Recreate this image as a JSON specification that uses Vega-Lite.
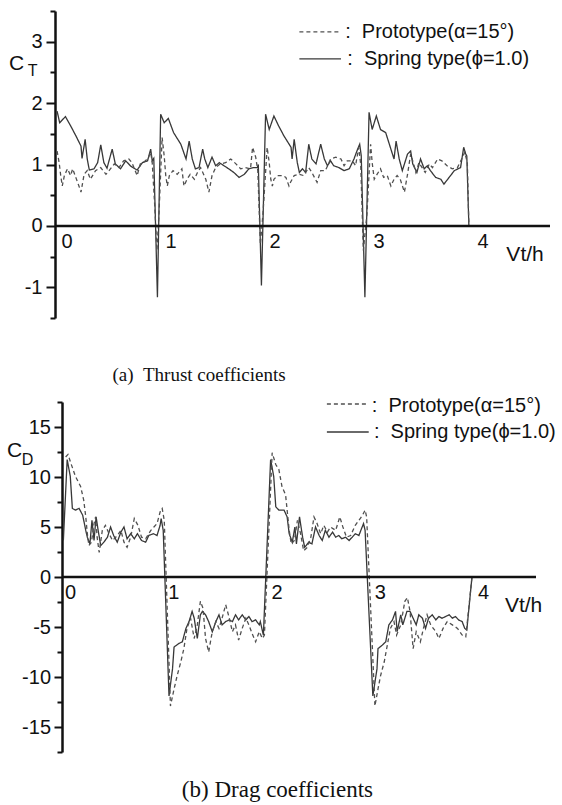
{
  "$schema": "https://vega.github.io/schema/vega-lite/v6.json",
  "padding": {"left": 6, "top": 10, "right": 5, "bottom": 5},
  "bounds": "flush",
  "spacing": 84,
  "config": {
    "view": {"stroke": null},
    "font": "Liberation Sans",
    "axis": {"grid": false, "domainColor": "#111111", "domainWidth": 2.5, "tickColor": "#111111", "tickWidth": 2, "labelColor": "#111111", "labelFont": "Liberation Sans", "labelFontSize": 20, "title": null}
  },
  "datasets": {
    "ct": [
      {"x":0.02,"y":1.87,"s":"S"},{"x":0.045,"y":1.68,"s":"S"},{"x":0.10,"y":1.78,"s":"S"},{"x":0.15,"y":1.63,"s":"S"},{"x":0.20,"y":1.47,"s":"S"},{"x":0.25,"y":1.30,"s":"S"},{"x":0.26,"y":1.10,"s":"S"},{"x":0.29,"y":1.41,"s":"S"},{"x":0.31,"y":1.09,"s":"S"},{"x":0.33,"y":0.91,"s":"S"},{"x":0.375,"y":0.93,"s":"S"},{"x":0.41,"y":1.03,"s":"S"},{"x":0.44,"y":1.32,"s":"S"},{"x":0.47,"y":1.03,"s":"S"},{"x":0.50,"y":0.94,"s":"S"},{"x":0.55,"y":1.25,"s":"S"},{"x":0.58,"y":1.01,"s":"S"},{"x":0.63,"y":0.93,"s":"S"},{"x":0.68,"y":1.06,"s":"S"},{"x":0.73,"y":0.97,"s":"S"},{"x":0.79,"y":0.91,"s":"S"},{"x":0.84,"y":1.03,"s":"S"},{"x":0.89,"y":1.06,"s":"S"},{"x":0.92,"y":1.25,"s":"S"},{"x":0.935,"y":1.06,"s":"S"},{"x":0.95,"y":1.1,"s":"S"},{"x":0.985,"y":-1.16,"s":"S"},{"x":1.016,"y":1.82,"s":"S"},
      {"x":1.05,"y":1.68,"s":"S"},{"x":1.09,"y":1.75,"s":"S"},{"x":1.14,"y":1.52,"s":"S"},{"x":1.21,"y":1.33,"s":"S"},{"x":1.26,"y":1.09,"s":"S"},{"x":1.29,"y":1.38,"s":"S"},{"x":1.32,"y":1.09,"s":"S"},{"x":1.35,"y":0.93,"s":"S"},{"x":1.385,"y":0.95,"s":"S"},{"x":1.42,"y":1.25,"s":"S"},{"x":1.44,"y":1.09,"s":"S"},{"x":1.47,"y":0.95,"s":"S"},{"x":1.51,"y":1.12,"s":"S"},{"x":1.545,"y":0.98,"s":"S"},{"x":1.58,"y":1.03,"s":"S"},{"x":1.625,"y":0.98,"s":"S"},{"x":1.67,"y":0.93,"s":"S"},{"x":1.72,"y":0.87,"s":"S"},{"x":1.77,"y":0.79,"s":"S"},{"x":1.82,"y":0.84,"s":"S"},{"x":1.865,"y":0.93,"s":"S"},{"x":1.91,"y":0.95,"s":"S"},{"x":1.945,"y":0.95,"s":"S"},{"x":1.955,"y":1.0,"s":"S"},{"x":1.985,"y":-0.97,"s":"S"},{"x":2.025,"y":1.82,"s":"S"},
      {"x":2.06,"y":1.57,"s":"S"},{"x":2.105,"y":1.79,"s":"S"},{"x":2.15,"y":1.63,"s":"S"},{"x":2.20,"y":1.47,"s":"S"},{"x":2.27,"y":1.28,"s":"S"},{"x":2.28,"y":1.09,"s":"S"},{"x":2.30,"y":1.41,"s":"S"},{"x":2.33,"y":1.03,"s":"S"},{"x":2.35,"y":0.87,"s":"S"},{"x":2.38,"y":0.93,"s":"S"},{"x":2.41,"y":0.87,"s":"S"},{"x":2.44,"y":1.33,"s":"S"},{"x":2.47,"y":1.09,"s":"S"},{"x":2.51,"y":1.01,"s":"S"},{"x":2.555,"y":1.33,"s":"S"},{"x":2.59,"y":1.09,"s":"S"},{"x":2.62,"y":0.98,"s":"S"},{"x":2.65,"y":1.06,"s":"S"},{"x":2.68,"y":0.98,"s":"S"},{"x":2.73,"y":0.95,"s":"S"},{"x":2.78,"y":0.90,"s":"S"},{"x":2.83,"y":0.93,"s":"S"},{"x":2.875,"y":1.09,"s":"S"},{"x":2.91,"y":1.25,"s":"S"},{"x":2.93,"y":1.33,"s":"S"},{"x":2.945,"y":1.14,"s":"S"},{"x":2.98,"y":-1.16,"s":"S"},{"x":3.02,"y":1.85,"s":"S"},
      {"x":3.05,"y":1.57,"s":"S"},{"x":3.09,"y":1.79,"s":"S"},{"x":3.13,"y":1.57,"s":"S"},{"x":3.18,"y":1.52,"s":"S"},{"x":3.23,"y":1.25,"s":"S"},{"x":3.26,"y":1.09,"s":"S"},{"x":3.28,"y":1.38,"s":"S"},{"x":3.31,"y":1.09,"s":"S"},{"x":3.34,"y":0.90,"s":"S"},{"x":3.39,"y":1.17,"s":"S"},{"x":3.42,"y":1.22,"s":"S"},{"x":3.44,"y":1.01,"s":"S"},{"x":3.48,"y":0.87,"s":"S"},{"x":3.515,"y":1.09,"s":"S"},{"x":3.55,"y":0.93,"s":"S"},{"x":3.58,"y":0.98,"s":"S"},{"x":3.61,"y":0.90,"s":"S"},{"x":3.66,"y":0.79,"s":"S"},{"x":3.71,"y":0.76,"s":"S"},{"x":3.74,"y":0.68,"s":"S"},{"x":3.79,"y":0.79,"s":"S"},{"x":3.84,"y":0.90,"s":"S"},{"x":3.90,"y":0.95,"s":"S"},{"x":3.93,"y":1.28,"s":"S"},{"x":3.95,"y":1.17,"s":"S"},{"x":3.96,"y":1.14,"s":"S"},{"x":3.98,"y":0,"s":"S"},
      {"x":0.02,"y":1.22,"s":"P"},{"x":0.04,"y":1.03,"s":"P"},{"x":0.055,"y":0.82,"s":"P"},{"x":0.07,"y":0.65,"s":"P"},{"x":0.09,"y":0.82,"s":"P"},{"x":0.12,"y":0.93,"s":"P"},{"x":0.15,"y":0.82,"s":"P"},{"x":0.17,"y":0.93,"s":"P"},{"x":0.20,"y":0.79,"s":"P"},{"x":0.23,"y":0.65,"s":"P"},{"x":0.25,"y":0.55,"s":"P"},{"x":0.28,"y":0.84,"s":"P"},{"x":0.31,"y":0.90,"s":"P"},{"x":0.34,"y":0.76,"s":"P"},{"x":0.39,"y":0.90,"s":"P"},{"x":0.44,"y":0.95,"s":"P"},{"x":0.49,"y":0.84,"s":"P"},{"x":0.52,"y":0.90,"s":"P"},{"x":0.57,"y":1.01,"s":"P"},{"x":0.615,"y":0.95,"s":"P"},{"x":0.66,"y":1.06,"s":"P"},{"x":0.71,"y":1.09,"s":"P"},{"x":0.74,"y":1.03,"s":"P"},{"x":0.79,"y":0.82,"s":"P"},{"x":0.82,"y":1.01,"s":"P"},{"x":0.87,"y":1.06,"s":"P"},{"x":0.90,"y":1.12,"s":"P"},{"x":0.92,"y":1.20,"s":"P"},{"x":0.935,"y":1.03,"s":"P"},{"x":0.96,"y":0.3,"s":"P"},{"x":0.98,"y":-0.4,"s":"P"},{"x":1.0,"y":0.2,"s":"P"},{"x":1.03,"y":1.44,"s":"P"},
      {"x":1.05,"y":1.14,"s":"P"},{"x":1.065,"y":0.82,"s":"P"},{"x":1.08,"y":0.65,"s":"P"},{"x":1.10,"y":0.82,"s":"P"},{"x":1.135,"y":0.90,"s":"P"},{"x":1.175,"y":0.84,"s":"P"},{"x":1.22,"y":0.93,"s":"P"},{"x":1.24,"y":0.65,"s":"P"},{"x":1.27,"y":0.76,"s":"P"},{"x":1.30,"y":0.84,"s":"P"},{"x":1.34,"y":0.76,"s":"P"},{"x":1.37,"y":0.87,"s":"P"},{"x":1.40,"y":0.95,"s":"P"},{"x":1.45,"y":0.76,"s":"P"},{"x":1.48,"y":0.55,"s":"P"},{"x":1.51,"y":0.82,"s":"P"},{"x":1.545,"y":0.95,"s":"P"},{"x":1.59,"y":1.01,"s":"P"},{"x":1.64,"y":1.03,"s":"P"},{"x":1.69,"y":1.09,"s":"P"},{"x":1.74,"y":1.01,"s":"P"},{"x":1.785,"y":0.93,"s":"P"},{"x":1.83,"y":0.95,"s":"P"},{"x":1.88,"y":0.93,"s":"P"},{"x":1.90,"y":1.28,"s":"P"},{"x":1.93,"y":1.12,"s":"P"},{"x":1.95,"y":0.9,"s":"P"},{"x":1.975,"y":-0.3,"s":"P"},{"x":2.0,"y":0.2,"s":"P"},{"x":2.04,"y":1.28,"s":"P"},
      {"x":2.06,"y":1.03,"s":"P"},{"x":2.075,"y":0.76,"s":"P"},{"x":2.09,"y":0.65,"s":"P"},{"x":2.105,"y":0.76,"s":"P"},{"x":2.14,"y":0.82,"s":"P"},{"x":2.19,"y":0.82,"s":"P"},{"x":2.22,"y":0.79,"s":"P"},{"x":2.25,"y":0.65,"s":"P"},{"x":2.265,"y":0.71,"s":"P"},{"x":2.30,"y":0.82,"s":"P"},{"x":2.35,"y":0.84,"s":"P"},{"x":2.39,"y":0.82,"s":"P"},{"x":2.44,"y":0.95,"s":"P"},{"x":2.47,"y":0.87,"s":"P"},{"x":2.52,"y":0.71,"s":"P"},{"x":2.555,"y":0.90,"s":"P"},{"x":2.60,"y":0.90,"s":"P"},{"x":2.65,"y":1.09,"s":"P"},{"x":2.70,"y":1.12,"s":"P"},{"x":2.75,"y":1.09,"s":"P"},{"x":2.78,"y":0.98,"s":"P"},{"x":2.81,"y":1.06,"s":"P"},{"x":2.86,"y":1.06,"s":"P"},{"x":2.89,"y":0.98,"s":"P"},{"x":2.91,"y":1.17,"s":"P"},{"x":2.92,"y":1.28,"s":"P"},{"x":2.94,"y":1.0,"s":"P"},{"x":2.965,"y":-0.4,"s":"P"},{"x":3.0,"y":0.2,"s":"P"},{"x":3.035,"y":1.33,"s":"P"},
      {"x":3.05,"y":1.03,"s":"P"},{"x":3.07,"y":0.76,"s":"P"},{"x":3.09,"y":0.82,"s":"P"},{"x":3.13,"y":0.93,"s":"P"},{"x":3.16,"y":0.79,"s":"P"},{"x":3.195,"y":0.82,"s":"P"},{"x":3.23,"y":0.65,"s":"P"},{"x":3.26,"y":0.76,"s":"P"},{"x":3.29,"y":0.82,"s":"P"},{"x":3.32,"y":0.76,"s":"P"},{"x":3.36,"y":0.55,"s":"P"},{"x":3.39,"y":0.84,"s":"P"},{"x":3.42,"y":1.17,"s":"P"},{"x":3.44,"y":1.06,"s":"P"},{"x":3.47,"y":0.87,"s":"P"},{"x":3.50,"y":1.03,"s":"P"},{"x":3.53,"y":0.95,"s":"P"},{"x":3.56,"y":0.87,"s":"P"},{"x":3.60,"y":1.01,"s":"P"},{"x":3.63,"y":0.95,"s":"P"},{"x":3.68,"y":1.09,"s":"P"},{"x":3.72,"y":1.06,"s":"P"},{"x":3.77,"y":0.98,"s":"P"},{"x":3.82,"y":0.93,"s":"P"},{"x":3.87,"y":0.95,"s":"P"},{"x":3.92,"y":1.12,"s":"P"},{"x":3.94,"y":1.20,"s":"P"},{"x":3.965,"y":1.03,"s":"P"},{"x":3.98,"y":0,"s":"P"}
    ],
    "cd": [
      {"x":0.013,"y":3.65,"s":"S"},{"x":0.05,"y":11.75,"s":"S"},{"x":0.08,"y":10.06,"s":"S"},{"x":0.10,"y":6.86,"s":"S"},{"x":0.13,"y":6.69,"s":"S"},{"x":0.165,"y":6.86,"s":"S"},{"x":0.20,"y":6.18,"s":"S"},{"x":0.23,"y":4.66,"s":"S"},{"x":0.245,"y":3.98,"s":"S"},{"x":0.27,"y":3.31,"s":"S"},{"x":0.29,"y":5.67,"s":"S"},{"x":0.31,"y":3.65,"s":"S"},{"x":0.33,"y":6.01,"s":"S"},{"x":0.35,"y":4.66,"s":"S"},{"x":0.375,"y":3.14,"s":"S"},{"x":0.405,"y":3.48,"s":"S"},{"x":0.44,"y":3.98,"s":"S"},{"x":0.47,"y":5.0,"s":"S"},{"x":0.50,"y":4.15,"s":"S"},{"x":0.535,"y":3.48,"s":"S"},{"x":0.57,"y":4.49,"s":"S"},{"x":0.60,"y":5.0,"s":"S"},{"x":0.63,"y":3.82,"s":"S"},{"x":0.665,"y":4.33,"s":"S"},{"x":0.70,"y":3.82,"s":"S"},{"x":0.73,"y":4.33,"s":"S"},{"x":0.77,"y":3.65,"s":"S"},{"x":0.81,"y":3.48,"s":"S"},{"x":0.84,"y":4.15,"s":"S"},{"x":0.885,"y":4.33,"s":"S"},{"x":0.92,"y":4.15,"s":"S"},{"x":0.95,"y":5.17,"s":"S"},{"x":0.96,"y":5.85,"s":"S"},{"x":0.98,"y":4.66,"s":"S"},
      {"x":1.036,"y":-11.9,"s":"S"},{"x":1.07,"y":-9.19,"s":"S"},{"x":1.085,"y":-7.0,"s":"S"},{"x":1.13,"y":-6.66,"s":"S"},{"x":1.165,"y":-6.48,"s":"S"},{"x":1.20,"y":-5.14,"s":"S"},{"x":1.23,"y":-4.46,"s":"S"},{"x":1.26,"y":-3.44,"s":"S"},{"x":1.28,"y":-4.12,"s":"S"},{"x":1.31,"y":-6.15,"s":"S"},{"x":1.34,"y":-3.78,"s":"S"},{"x":1.36,"y":-3.44,"s":"S"},{"x":1.39,"y":-3.78,"s":"S"},{"x":1.42,"y":-4.46,"s":"S"},{"x":1.455,"y":-5.47,"s":"S"},{"x":1.49,"y":-4.46,"s":"S"},{"x":1.52,"y":-3.78,"s":"S"},{"x":1.55,"y":-4.79,"s":"S"},{"x":1.585,"y":-4.46,"s":"S"},{"x":1.62,"y":-4.29,"s":"S"},{"x":1.65,"y":-4.46,"s":"S"},{"x":1.68,"y":-3.78,"s":"S"},{"x":1.71,"y":-4.29,"s":"S"},{"x":1.745,"y":-3.78,"s":"S"},{"x":1.78,"y":-4.29,"s":"S"},{"x":1.81,"y":-3.95,"s":"S"},{"x":1.84,"y":-4.46,"s":"S"},{"x":1.875,"y":-4.29,"s":"S"},{"x":1.91,"y":-4.79,"s":"S"},{"x":1.92,"y":-4.46,"s":"S"},{"x":1.95,"y":-5.81,"s":"S"},
      {"x":2.02,"y":11.75,"s":"S"},{"x":2.05,"y":10.06,"s":"S"},{"x":2.07,"y":7.02,"s":"S"},{"x":2.10,"y":6.69,"s":"S"},{"x":2.15,"y":6.69,"s":"S"},{"x":2.18,"y":6.01,"s":"S"},{"x":2.20,"y":4.33,"s":"S"},{"x":2.23,"y":3.48,"s":"S"},{"x":2.255,"y":5.0,"s":"S"},{"x":2.27,"y":3.31,"s":"S"},{"x":2.30,"y":6.01,"s":"S"},{"x":2.33,"y":3.98,"s":"S"},{"x":2.35,"y":2.97,"s":"S"},{"x":2.39,"y":3.48,"s":"S"},{"x":2.42,"y":3.31,"s":"S"},{"x":2.455,"y":5.0,"s":"S"},{"x":2.49,"y":4.15,"s":"S"},{"x":2.52,"y":3.65,"s":"S"},{"x":2.55,"y":4.66,"s":"S"},{"x":2.585,"y":3.98,"s":"S"},{"x":2.62,"y":4.49,"s":"S"},{"x":2.65,"y":3.98,"s":"S"},{"x":2.68,"y":4.15,"s":"S"},{"x":2.71,"y":3.82,"s":"S"},{"x":2.745,"y":3.98,"s":"S"},{"x":2.78,"y":3.65,"s":"S"},{"x":2.81,"y":3.98,"s":"S"},{"x":2.84,"y":4.33,"s":"S"},{"x":2.875,"y":4.15,"s":"S"},{"x":2.90,"y":4.83,"s":"S"},{"x":2.92,"y":5.34,"s":"S"},{"x":2.935,"y":4.66,"s":"S"},
      {"x":3.01,"y":-11.9,"s":"S"},{"x":3.05,"y":-9.19,"s":"S"},{"x":3.06,"y":-7.16,"s":"S"},{"x":3.10,"y":-6.82,"s":"S"},{"x":3.135,"y":-6.48,"s":"S"},{"x":3.165,"y":-4.79,"s":"S"},{"x":3.20,"y":-4.29,"s":"S"},{"x":3.23,"y":-3.44,"s":"S"},{"x":3.245,"y":-5.47,"s":"S"},{"x":3.28,"y":-3.78,"s":"S"},{"x":3.30,"y":-4.79,"s":"S"},{"x":3.34,"y":-3.44,"s":"S"},{"x":3.37,"y":-3.44,"s":"S"},{"x":3.40,"y":-4.12,"s":"S"},{"x":3.43,"y":-4.79,"s":"S"},{"x":3.455,"y":-3.78,"s":"S"},{"x":3.49,"y":-4.12,"s":"S"},{"x":3.52,"y":-5.14,"s":"S"},{"x":3.55,"y":-4.12,"s":"S"},{"x":3.585,"y":-3.78,"s":"S"},{"x":3.62,"y":-4.29,"s":"S"},{"x":3.65,"y":-3.95,"s":"S"},{"x":3.68,"y":-4.12,"s":"S"},{"x":3.715,"y":-3.95,"s":"S"},{"x":3.75,"y":-3.78,"s":"S"},{"x":3.78,"y":-4.12,"s":"S"},{"x":3.81,"y":-3.95,"s":"S"},{"x":3.84,"y":-4.29,"s":"S"},{"x":3.875,"y":-4.46,"s":"S"},{"x":3.90,"y":-5.14,"s":"S"},{"x":3.92,"y":-5.30,"s":"S"},{"x":3.97,"y":0,"s":"S"},
      {"x":0.035,"y":12.0,"s":"P"},{"x":0.058,"y":12.26,"s":"P"},{"x":0.085,"y":11.4,"s":"P"},{"x":0.13,"y":10.06,"s":"P"},{"x":0.18,"y":9.05,"s":"P"},{"x":0.21,"y":7.7,"s":"P"},{"x":0.23,"y":6.01,"s":"P"},{"x":0.245,"y":4.33,"s":"P"},{"x":0.26,"y":3.14,"s":"P"},{"x":0.285,"y":3.48,"s":"P"},{"x":0.31,"y":5.34,"s":"P"},{"x":0.325,"y":6.01,"s":"P"},{"x":0.34,"y":3.98,"s":"P"},{"x":0.36,"y":2.46,"s":"P"},{"x":0.39,"y":4.66,"s":"P"},{"x":0.42,"y":5.17,"s":"P"},{"x":0.455,"y":4.33,"s":"P"},{"x":0.49,"y":3.65,"s":"P"},{"x":0.535,"y":4.15,"s":"P"},{"x":0.57,"y":4.66,"s":"P"},{"x":0.60,"y":3.48,"s":"P"},{"x":0.63,"y":2.97,"s":"P"},{"x":0.665,"y":3.98,"s":"P"},{"x":0.70,"y":5.85,"s":"P"},{"x":0.735,"y":5.17,"s":"P"},{"x":0.77,"y":3.98,"s":"P"},{"x":0.81,"y":3.82,"s":"P"},{"x":0.86,"y":4.66,"s":"P"},{"x":0.89,"y":5.0,"s":"P"},{"x":0.92,"y":5.34,"s":"P"},{"x":0.955,"y":6.69,"s":"P"},{"x":0.97,"y":6.86,"s":"P"},{"x":0.99,"y":5.67,"s":"P"},
      {"x":1.05,"y":-12.9,"s":"P"},{"x":1.085,"y":-11.2,"s":"P"},{"x":1.115,"y":-9.86,"s":"P"},{"x":1.15,"y":-8.5,"s":"P"},{"x":1.18,"y":-7.16,"s":"P"},{"x":1.21,"y":-5.14,"s":"P"},{"x":1.245,"y":-4.12,"s":"P"},{"x":1.28,"y":-6.15,"s":"P"},{"x":1.31,"y":-4.79,"s":"P"},{"x":1.34,"y":-2.43,"s":"P"},{"x":1.365,"y":-3.11,"s":"P"},{"x":1.39,"y":-6.15,"s":"P"},{"x":1.42,"y":-7.5,"s":"P"},{"x":1.455,"y":-5.47,"s":"P"},{"x":1.49,"y":-4.46,"s":"P"},{"x":1.52,"y":-5.14,"s":"P"},{"x":1.55,"y":-4.12,"s":"P"},{"x":1.585,"y":-2.77,"s":"P"},{"x":1.62,"y":-4.12,"s":"P"},{"x":1.65,"y":-5.47,"s":"P"},{"x":1.68,"y":-4.79,"s":"P"},{"x":1.71,"y":-6.31,"s":"P"},{"x":1.745,"y":-5.14,"s":"P"},{"x":1.78,"y":-4.12,"s":"P"},{"x":1.81,"y":-4.79,"s":"P"},{"x":1.84,"y":-5.64,"s":"P"},{"x":1.875,"y":-6.48,"s":"P"},{"x":1.91,"y":-5.47,"s":"P"},{"x":1.94,"y":-6.15,"s":"P"},{"x":1.96,"y":-5.81,"s":"P"},
      {"x":2.035,"y":12.43,"s":"P"},{"x":2.07,"y":11.25,"s":"P"},{"x":2.10,"y":10.74,"s":"P"},{"x":2.13,"y":9.05,"s":"P"},{"x":2.165,"y":8.21,"s":"P"},{"x":2.18,"y":6.69,"s":"P"},{"x":2.20,"y":4.66,"s":"P"},{"x":2.22,"y":3.31,"s":"P"},{"x":2.25,"y":3.65,"s":"P"},{"x":2.28,"y":5.67,"s":"P"},{"x":2.31,"y":4.33,"s":"P"},{"x":2.34,"y":2.63,"s":"P"},{"x":2.375,"y":2.97,"s":"P"},{"x":2.41,"y":3.98,"s":"P"},{"x":2.44,"y":6.01,"s":"P"},{"x":2.47,"y":5.34,"s":"P"},{"x":2.505,"y":4.33,"s":"P"},{"x":2.535,"y":5.17,"s":"P"},{"x":2.57,"y":4.49,"s":"P"},{"x":2.60,"y":5.0,"s":"P"},{"x":2.65,"y":4.66,"s":"P"},{"x":2.69,"y":6.01,"s":"P"},{"x":2.72,"y":5.0,"s":"P"},{"x":2.755,"y":3.98,"s":"P"},{"x":2.795,"y":4.15,"s":"P"},{"x":2.84,"y":5.17,"s":"P"},{"x":2.875,"y":5.67,"s":"P"},{"x":2.91,"y":6.18,"s":"P"},{"x":2.935,"y":6.69,"s":"P"},{"x":2.95,"y":6.01,"s":"P"},
      {"x":3.03,"y":-12.9,"s":"P"},{"x":3.06,"y":-11.2,"s":"P"},{"x":3.085,"y":-9.86,"s":"P"},{"x":3.12,"y":-8.5,"s":"P"},{"x":3.15,"y":-6.82,"s":"P"},{"x":3.18,"y":-5.14,"s":"P"},{"x":3.215,"y":-4.46,"s":"P"},{"x":3.24,"y":-5.81,"s":"P"},{"x":3.28,"y":-4.79,"s":"P"},{"x":3.32,"y":-2.43,"s":"P"},{"x":3.345,"y":-2.06,"s":"P"},{"x":3.37,"y":-3.44,"s":"P"},{"x":3.40,"y":-7.16,"s":"P"},{"x":3.43,"y":-5.47,"s":"P"},{"x":3.47,"y":-6.48,"s":"P"},{"x":3.50,"y":-5.14,"s":"P"},{"x":3.535,"y":-3.78,"s":"P"},{"x":3.57,"y":-4.79,"s":"P"},{"x":3.62,"y":-5.47,"s":"P"},{"x":3.65,"y":-6.15,"s":"P"},{"x":3.69,"y":-5.14,"s":"P"},{"x":3.73,"y":-4.46,"s":"P"},{"x":3.78,"y":-4.79,"s":"P"},{"x":3.83,"y":-5.14,"s":"P"},{"x":3.875,"y":-5.81,"s":"P"},{"x":3.91,"y":-5.98,"s":"P"},{"x":3.97,"y":0,"s":"P"}
    ]
  },
  "vconcat": [
    {
      "width": 495,
      "height": 307,
      "resolve": {"axis": {"y": "independent"}},
      "layer": [
        {
          "data": {"name": "ct"},
          "mark": {"type": "line", "strokeWidth": 1.3},
          "encoding": {
            "x": {"field": "x", "type": "quantitative", "scale": {"domain": [0, 4.76], "nice": false, "zero": false},
                  "axis": {"orient": "bottom", "offset": -92, "domain": false, "ticks": false, "values": [0, 1, 2, 3, 4], "labelAlign": "left", "labelOffset": 6, "labelPadding": 5, "labelExpr": "'' + datum.value", "title": null}},
            "y": {"field": "y", "type": "quantitative", "scale": {"domain": [-1.5, 3.5], "nice": false, "zero": false},
                  "axis": {"orient": "left", "values": [-1, 0, 1, 2, 3], "labelExpr": "'' + datum.value", "tickSize": 9, "labelPadding": 4, "title": null}},
            "strokeDash": {"field": "s", "type": "nominal", "scale": {"domain": ["P", "S"], "range": [[4, 3], [1, 0]]}, "legend": null},
            "color": {"field": "s", "type": "nominal", "scale": {"domain": ["P", "S"], "range": ["#505050", "#383838"]}, "legend": null}
          }
        },
        {"data": {"values": [{}]}, "mark": {"type": "rule", "strokeWidth": 2.5, "color": "#111111"},
         "encoding": {"x": {"datum": 0}, "x2": {"datum": 4.76}, "y": {"datum": 0, "axis": {"orient": "left", "values": [-1.5, -0.5, 0.5, 1.5, 2.5, 3.5], "labels": false, "domain": false, "tickSize": 5, "title": null}}}},
        {"data": {"values": [{}]}, "mark": {"type": "rule", "strokeWidth": 1.3, "color": "#505050", "strokeDash": [4, 3]}, "encoding": {"x": {"datum": 2.35}, "x2": {"datum": 2.75}, "y": {"datum": 3.16, "axis": null}}},
        {"data": {"values": [{}]}, "mark": {"type": "rule", "strokeWidth": 1.3, "color": "#383838"}, "encoding": {"x": {"datum": 2.35}, "x2": {"datum": 2.75}, "y": {"datum": 2.72, "axis": null}}},
        {"data": {"values": [{}]}, "mark": {"type": "text", "text": ":\u00a0\u00a0Prototype(α=15°)", "align": "left", "baseline": "middle", "fontSize": 20, "color": "#111111"}, "encoding": {"x": {"datum": 2.79}, "y": {"datum": 3.16, "axis": null}}},
        {"data": {"values": [{}]}, "mark": {"type": "text", "text": ":\u00a0\u00a0Spring type(ϕ=1.0)", "align": "left", "baseline": "middle", "fontSize": 20, "color": "#111111"}, "encoding": {"x": {"datum": 2.81}, "y": {"datum": 2.72, "axis": null}}},
        {"data": {"values": [{}]}, "mark": {"type": "text", "text": "C", "align": "center", "baseline": "middle", "fontSize": 21, "color": "#111111"}, "encoding": {"x": {"datum": -0.37}, "y": {"datum": 2.63, "axis": null}}},
        {"data": {"values": [{}]}, "mark": {"type": "text", "text": "T", "align": "center", "baseline": "middle", "fontSize": 16, "color": "#111111"}, "encoding": {"x": {"datum": -0.216}, "y": {"datum": 2.52, "axis": null}}},
        {"data": {"values": [{}]}, "mark": {"type": "text", "text": "Vt/h", "align": "center", "baseline": "middle", "fontSize": 21, "color": "#111111"}, "encoding": {"x": {"datum": 4.52}, "y": {"datum": -0.47, "axis": null}}},
        {"data": {"values": [{}]}, "mark": {"type": "text", "text": "(a)\u00a0\u00a0Thrust coefficients", "align": "center", "baseline": "middle", "font": "Liberation Serif", "fontSize": 19, "color": "#111111"}, "encoding": {"x": {"datum": 1.385}, "y": {"datum": -2.43, "axis": null}}}
      ]
    },
    {
      "width": 481,
      "height": 350,
      "resolve": {"axis": {"y": "independent"}},
      "layer": [
        {
          "data": {"name": "cd"},
          "mark": {"type": "line", "strokeWidth": 1.3},
          "encoding": {
            "x": {"field": "x", "type": "quantitative", "scale": {"domain": [-0.068, 4.59], "nice": false, "zero": false},
                  "axis": {"orient": "bottom", "offset": -175, "domain": false, "ticks": false, "values": [0, 1, 2, 3, 4], "labelAlign": "left", "labelOffset": 2.5, "labelPadding": 5, "labelExpr": "'' + datum.value", "title": null}},
            "y": {"field": "y", "type": "quantitative", "scale": {"domain": [-17.5, 17.5], "nice": false, "zero": false},
                  "axis": {"orient": "left", "offset": -7, "values": [-15, -10, -5, 0, 5, 10, 15], "labelExpr": "'' + datum.value", "tickSize": 8, "labelPadding": 3.5, "title": null}},
            "strokeDash": {"field": "s", "type": "nominal", "scale": {"domain": ["P", "S"], "range": [[4, 3], [1, 0]]}, "legend": null},
            "color": {"field": "s", "type": "nominal", "scale": {"domain": ["P", "S"], "range": ["#505050", "#383838"]}, "legend": null}
          }
        },
        {"data": {"values": [{}]}, "mark": {"type": "rule", "strokeWidth": 2.5, "color": "#111111"},
         "encoding": {"x": {"datum": 0}, "x2": {"datum": 4.59}, "y": {"datum": 0, "axis": {"orient": "left", "offset": -7, "values": [-17.5, -12.5, -7.5, -2.5, 2.5, 7.5, 12.5, 17.5], "labels": false, "domain": false, "tickSize": 5, "title": null}}}},
        {"data": {"values": [{}]}, "mark": {"type": "rule", "strokeWidth": 1.3, "color": "#505050", "strokeDash": [4, 3]}, "encoding": {"x": {"datum": 2.565}, "x2": {"datum": 2.97}, "y": {"datum": 17.3, "axis": null}}},
        {"data": {"values": [{}]}, "mark": {"type": "rule", "strokeWidth": 1.3, "color": "#383838"}, "encoding": {"x": {"datum": 2.565}, "x2": {"datum": 2.97}, "y": {"datum": 14.5, "axis": null}}},
        {"data": {"values": [{}]}, "mark": {"type": "text", "text": ":\u00a0\u00a0Prototype(α=15°)", "align": "left", "baseline": "middle", "fontSize": 20, "color": "#111111"}, "encoding": {"x": {"datum": 3.0}, "y": {"datum": 17.1, "axis": null}}},
        {"data": {"values": [{}]}, "mark": {"type": "text", "text": ":\u00a0\u00a0Spring type(ϕ=1.0)", "align": "left", "baseline": "middle", "fontSize": 20, "color": "#111111"}, "encoding": {"x": {"datum": 3.02}, "y": {"datum": 14.5, "axis": null}}},
        {"data": {"values": [{}]}, "mark": {"type": "text", "text": "C", "align": "center", "baseline": "middle", "fontSize": 21, "color": "#111111"}, "encoding": {"x": {"datum": -0.46}, "y": {"datum": 12.56, "axis": null}}},
        {"data": {"values": [{}]}, "mark": {"type": "text", "text": "D", "align": "center", "baseline": "middle", "fontSize": 16, "color": "#111111"}, "encoding": {"x": {"datum": -0.334}, "y": {"datum": 11.75, "axis": null}}},
        {"data": {"values": [{}]}, "mark": {"type": "text", "text": "Vt/h", "align": "center", "baseline": "middle", "fontSize": 21, "color": "#111111"}, "encoding": {"x": {"datum": 4.47}, "y": {"datum": -2.94, "axis": null}}},
        {"data": {"values": [{}]}, "mark": {"type": "text", "text": "(b) Drag coefficients", "align": "center", "baseline": "middle", "font": "Liberation Serif", "fontSize": 23, "color": "#111111"}, "encoding": {"x": {"datum": 2.086}, "y": {"datum": -21.3, "axis": null}}}
      ]
    }
  ]
}
